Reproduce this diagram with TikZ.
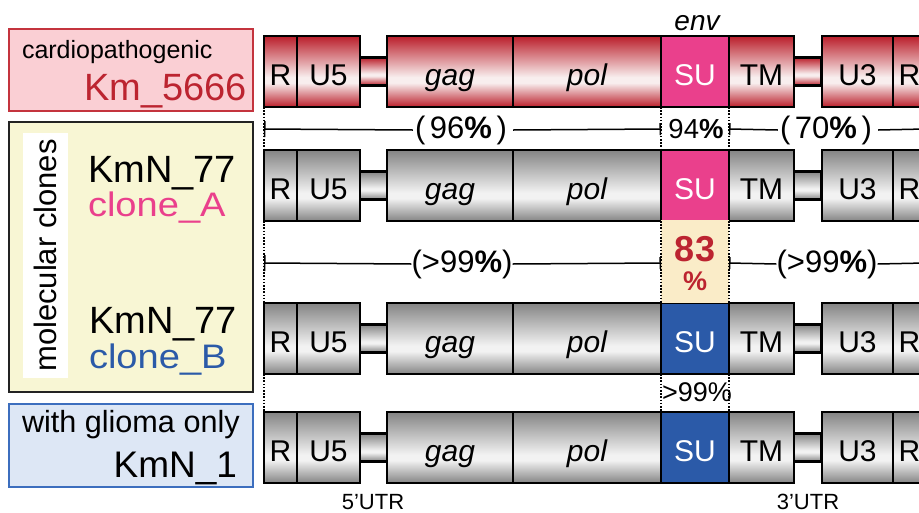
\documentclass[tikz,border=0pt]{standalone}
\usepackage{fontspec}
\setmainfont{Liberation Sans}
\usetikzlibrary{arrows.meta}
\definecolor{segred}{RGB}{186,30,42}
\definecolor{segredmid}{RGB}{248,238,238}
\definecolor{seggray}{RGB}{132,132,132}
\definecolor{seggraymid}{RGB}{242,242,242}
\definecolor{supink}{RGB}{234,64,140}
\definecolor{sublue}{RGB}{43,90,168}
\definecolor{kmred}{RGB}{188,36,48}
\definecolor{pinkbg}{RGB}{250,207,212}
\definecolor{pinkbd}{RGB}{196,52,62}
\definecolor{yelbg}{RGB}{248,246,212}
\definecolor{yelbd}{RGB}{35,35,35}
\definecolor{bluebg}{RGB}{221,231,245}
\definecolor{bluebd}{RGB}{60,110,190}
\definecolor{beige}{RGB}{250,236,200}
\pgfdeclareverticalshading{redsh}{100bp}{color(0bp)=(segred); color(25bp)=(segred); color(42bp)=(segredmid); color(46bp)=(segredmid); color(75bp)=(segred); color(100bp)=(segred)}
\pgfdeclareverticalshading{graysh}{100bp}{color(0bp)=(seggray); color(25bp)=(seggray); color(41bp)=(seggraymid); color(45bp)=(seggraymid); color(75bp)=(seggray); color(100bp)=(seggray)}
\newcommand\fs[1]{\fontsize{#1}{#1}\selectfont}
\newcommand\pctb{\textbf{\%}}
\newcommand\genome[4]{%
  \node[linker,#3,anchor=west] (#1La) at (360,#2+35.5) {};
  \node[linker,#3,anchor=west] (#1Lb) at (794,#2+35.5) {};
  \node[seg,#3,minimum width=33] (#1R) at (264,#2) {R};
  \node[seg,#3,minimum width=63] (#1U5) at (297,#2) {U5};
  \node[seg,#3,minimum width=126] (#1gag) at (387,#2) {\itshape gag};
  \node[seg,#3,minimum width=148] (#1pol) at (513,#2) {\itshape pol};
  \node[seg,fill=#4,text=white,minimum width=68] (#1SU) at (661,#2) {SU};
  \node[seg,#3,minimum width=65] (#1TM) at (729,#2) {TM};
  \node[seg,#3,minimum width=71] (#1U3) at (822,#2) {U3};
  \node[seg,#3,minimum width=33] (#1Rb) at (893,#2) {R};
}
\begin{document}
\begin{tikzpicture}[x=1pt,y=-1pt,
  seg/.style={draw=black,line width=2.4pt,anchor=north west,minimum height=71pt,
    inner sep=0pt,outer sep=0pt,text height=27pt,text depth=0pt,font=\fs{30}},
  redfill/.style={shading=redsh},
  grayfill/.style={shading=graysh},
  linker/.style={draw=black,line width=2.4pt,minimum width=27pt,minimum height=28pt,
    inner sep=0pt,outer sep=0pt},
  pct/.style={font=\fs{27.5},inner sep=0pt},
  bigpct/.style={font=\fs{31},inner sep=0pt},
  simline/.style={line width=1.5pt},
  dotline/.style={line width=1.6pt,dash pattern=on 1.6pt off 1.6pt},
  legend/.style={line width=2pt,anchor=north west,inner sep=0pt,outer sep=0pt},
  lbl/.style={inner sep=0pt,outer sep=0pt}
]
\clip (0,0) rectangle (919,512);
\fill[white] (0,0) rectangle (919,512);

% legend boxes
\node[legend,draw=pinkbd,fill=pinkbg,minimum width=244,minimum height=82] (lg1) at (9,29) {};
\node[legend,draw=yelbd,fill=yelbg,minimum width=244,minimum height=270] (lg2) at (9,122) {};
\node[fill=white,minimum width=45,minimum height=245,anchor=north west,inner sep=0pt,outer sep=0pt] (lgw) at (23,133) {};
\node[rotate=90,font=\fs{31},lbl] (mc) at (lgw.center) {molecular clones};
\node[legend,draw=bluebd,fill=bluebg,minimum width=244,minimum height=83] (lg3) at (9,404) {};

\node[lbl,anchor=base west,font=\fs{25}] (t1) at (22,58) {cardiopathogenic};
\node[lbl,anchor=base east,font=\fs{38},text=kmred] (t2) at (247,100) {Km\_5666};
\node[lbl,anchor=base west,font=\fs{38}] (t3) at (88,182) {KmN\_77};
\node[lbl,anchor=base west,font=\fs{34},xscale=1.12,text=supink] (t4) at (88,216) {clone\_A};
\node[lbl,anchor=base west,font=\fs{38}] (t5) at (89,333) {KmN\_77};
\node[lbl,anchor=base west,font=\fs{34},xscale=1.12,text=sublue] (t6) at (89,368) {clone\_B};
\node[lbl,anchor=base west,font=\fs{30.6}] (t7) at (22,432) {with glioma only};
\node[lbl,anchor=base east,font=\fs{37}] (t8) at (237,477) {KmN\_1};

% genomes
\genome{ra}{36}{redfill}{supink}
\genome{rb}{150}{grayfill}{supink}
\genome{rc}{303}{grayfill}{sublue}
\genome{rd}{412}{grayfill}{sublue}

\node[lbl,anchor=base,font=\fs{28}\itshape] (env) at (697,30) {env};
\node[lbl,anchor=base,font=\fs{22}] (utr5) at (373,509) {5'UTR};
\node[lbl,anchor=base,font=\fs{22}] (utr3) at (808,509) {3'UTR};

% 83% box
\node[fill=beige,anchor=north west,minimum width=68,minimum height=83,inner sep=0pt,outer sep=0pt] (b83) at (661,220) {};
\node[lbl,font=\fs{36}\bfseries,text=kmred] (n83) at (695,249) {83};
\node[lbl,font=\fs{27}\bfseries,text=kmred] (n83p) at (695,281) {\%};

% dotted guide lines
\draw[dotline] (raR.south west) -- (rbR.north west);
\draw[dotline] (rbR.south west) -- (rcR.north west);
\draw[dotline,line width=2.2pt] (rcR.south west) -- (rdR.north west);
\foreach \u/\l in {raSU/rbSU,rbSU/rcSU,rcSU/rdSU}{
  \draw[dotline] (\u.south west) -- (\l.north west);
  \draw[dotline] (\u.south east) -- (\l.north east);
}

% similarity lines, rows 1-2
\coordinate (a1) at (264,129);
\coordinate (b1) at (661,129);
\coordinate (c1) at (729,129);
\coordinate (d1) at (925,129);
\node[bigpct] (p96) at (461,130) {(\hspace{0.15em}96\pctb\hspace{0.15em})};
\node[pct] (p94) at (696,129) {94\pctb};
\node[bigpct] (p70) at (826,130) {(\hspace{0.15em}70\pctb\hspace{0.15em})};
\draw[simline,{Bar[width=16pt,line width=1.5pt]}-] (a1) -- ([xshift=-2pt]p96.west);
\draw[simline,-{Bar[width=12pt,line width=1.5pt]}] ([xshift=6pt]p96.east) -- (b1);
\draw[simline,{Bar[width=12pt,line width=1.5pt]}-] (c1) -- ([xshift=-2pt]p70.west);
\draw[simline] ([xshift=6pt]p70.east) -- (d1);

% similarity lines, rows 2-3
\coordinate (a2) at (264,263);
\coordinate (b2) at (661,263);
\coordinate (c2) at (729,263);
\coordinate (d2) at (925,263);
\node[bigpct] (p99a) at (462,264) {(>99\pctb)};
\node[bigpct] (p99b) at (827,264) {(>99\pctb)};
\draw[simline,{Bar[width=16pt,line width=1.5pt]}-] (a2) -- (p99a.west);
\draw[simline,-{Bar[width=12pt,line width=1.5pt]}] (p99a.east) -- (b2);
\draw[simline,{Bar[width=12pt,line width=1.5pt]}-] (c2) -- (p99b.west);
\draw[simline] (p99b.east) -- (d2);

% rows 3-4
\node[pct,font=\fs{27}] (p99c) at (697,392) {>99\%};
\end{tikzpicture}
\end{document}
